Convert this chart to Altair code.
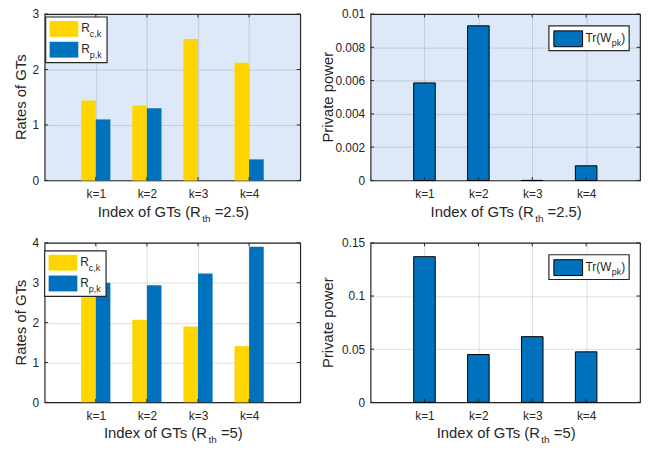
import altair as alt
import pandas as pd

# ---------------- data ----------------
K = [1, 2, 3, 4]
RC_25 = [1.44, 1.35, 2.55, 2.12]
RP_25 = [1.10, 1.30, 0.0, 0.38]
PW_25 = [0.00586, 0.00929, 0.0, 0.00088]
RC_5 = [2.80, 2.07, 1.90, 1.41]
RP_5 = [3.00, 2.94, 3.23, 3.90]
PW_5 = [0.137, 0.045, 0.0618, 0.0475]

Y_TL = [0, 1, 2, 3]
Y_BL = [0, 1, 2, 3, 4]
Y_TR = [0, 0.002, 0.004, 0.006, 0.008, 0.01]
Y_BR = [0, 0.05, 0.1, 0.15]

XT_TOP = ["Index of GTs (R", "th", "=2.5)"]
XT_BOT = ["Index of GTs (R", "th", "=5)"]
YT_L = "Rates of GTs"
YT_R = "Private power"
LEG_L = [("R", "c,k"), ("R", "p,k")]
LEG_R = ("Tr(W", "pk", ")")

# ---------------- style ----------------
FONT = "Liberation Sans"
INK = "#262626"
YEL = "#FFD500"
BLUE = "#0072BD"
BG_TOP = "#dde9f8"
BG_BOT = "#ffffff"
TL = 3.5  # inward tick length
TFS = 15   # axis title font size
LFS = 12   # tick label font size

ONE = pd.DataFrame({"o": [0]})


def T(s, x, y, size, align="left", baseline="alphabetic", angle=0):
    return alt.Chart(ONE).mark_text(
        text=s, font=FONT, fontSize=size, color=INK, align=align,
        baseline=baseline, angle=angle
    ).encode(x=alt.value(x), y=alt.value(y))


def RECT(x1, y1, x2, y2, fill, stroke=None, sw=0):
    kw = dict(fill=fill)
    if stroke:
        kw.update(stroke=stroke, strokeWidth=sw)
    return alt.Chart(ONE).mark_rect(**kw).encode(
        x=alt.value(x1), x2=alt.value(x2), y=alt.value(y1), y2=alt.value(y2))


def xscale():
    return alt.Scale(domain=[0, 5], nice=False, zero=False)


def yscale(yvals):
    return alt.Scale(domain=[yvals[0], yvals[-1] * (1 + 1e-9)], nice=False)


def xaxis():
    return alt.Axis(values=K, labelExpr="'k=' + datum.value", grid=True, ticks=False,
                    domain=False, title=None, labelPadding=8, labelFontSize=LFS,
                    labelFont=FONT, labelColor=INK, gridColor=INK, gridOpacity=0.15)


def yaxis(vals):
    return alt.Axis(values=vals, format="~g", grid=True, ticks=False, domain=False,
                    title=None, labelPadding=6, labelFontSize=LFS, labelFont=FONT,
                    labelColor=INK, gridColor=INK, gridOpacity=0.15, labelOverlap=False)


def ticks(W, H, yvals):
    yd = pd.DataFrame({"t": yvals})
    xd = pd.DataFrame({"k": K})
    rl = alt.Chart(yd).mark_rule(color=INK, strokeWidth=1)
    rx = alt.Chart(xd).mark_rule(color=INK, strokeWidth=1)
    return [
        rl.encode(y=alt.Y("t:Q", scale=yscale(yvals), axis=yaxis(yvals)), x=alt.value(0), x2=alt.value(TL)),
        rl.encode(y=alt.Y("t:Q", scale=yscale(yvals), axis=yaxis(yvals)), x=alt.value(W - TL), x2=alt.value(W)),
        rx.encode(x=alt.X("k:Q", scale=xscale(), axis=xaxis()), y=alt.value(H - TL), y2=alt.value(H)),
        rx.encode(x=alt.X("k:Q", scale=xscale(), axis=xaxis()), y=alt.value(0), y2=alt.value(TL)),
    ]


def xtitle(W, H, parts, tail_em, tb):
    # centre the three pieces as one title
    head = 7.058 * TFS
    total = head + 1.5 + 0.834 * 10 + 0.278 * TFS + tail_em * TFS
    d = head - total / 2
    return [
        T(parts[0], W / 2 + d, H + tb, TFS, align="right"),
        T(parts[1], W / 2 + d + 1.5, H + tb + 5, 10),
        T(parts[2], W / 2 + d + 1.5 + 0.834 * 10 + 0.278 * TFS, H + tb, TFS),
    ]


def grouped_panel(W, H, rc, rp, yvals, bg, ox, oy, xt, tail_em, tb):
    df = pd.DataFrame({"k": K * 2, "v": rc + rp, "s": ["c"] * 4 + ["p"] * 4})
    bars = alt.Chart(df).transform_calculate(
        x0="datum.k + (datum.s == 'c' ? -0.2857 : 0)",
        x1="datum.k + (datum.s == 'c' ? 0 : 0.2857)",
    ).mark_bar().encode(
        x=alt.X("x0:Q", scale=xscale(), axis=xaxis()),
        x2="x1:Q",
        y=alt.Y("v:Q", scale=yscale(yvals), axis=yaxis(yvals)),
        y2=alt.datum(0),
        color=alt.Color("s:N", scale=alt.Scale(domain=["c", "p"], range=[YEL, BLUE]), legend=None),
    )
    leg = [
        RECT(ox, oy, ox + 62, oy + 46, "#ffffff", INK, 1.2),
        RECT(ox + 4, oy + 4, ox + 33, oy + 20, YEL),
        RECT(ox + 4, oy + 25, ox + 33, oy + 41, BLUE),
        T(LEG_L[0][0], ox + 36, oy + 15.3, 12),
        T(LEG_L[0][1], ox + 44.5, oy + 20.3, 9),
        T(LEG_L[1][0], ox + 36, oy + 36.3, 12),
        T(LEG_L[1][1], ox + 44.5, oy + 41.3, 9),
    ]
    layers = [bars] + ticks(W, H, yvals) + leg + xtitle(W, H, xt, tail_em, tb) + [
        T(YT_L, -23.5, H / 2, TFS, align="center", baseline="middle", angle=270)]
    return alt.layer(*layers).properties(
        width=W, height=H, view=alt.ViewBackground(fill=bg, stroke=INK, strokeWidth=1.2))


def single_panel(W, H, pw, yvals, bg, xt, tail_em, tb):
    df = pd.DataFrame({"k": K, "v": pw})
    bars = alt.Chart(df).transform_calculate(
        x0="datum.k - 0.2", x1="datum.k + 0.2"
    ).mark_bar(fill=BLUE, stroke="#000000", strokeWidth=1).encode(
        x=alt.X("x0:Q", scale=xscale(), axis=xaxis()),
        x2="x1:Q",
        y=alt.Y("v:Q", scale=yscale(yvals), axis=yaxis(yvals)),
        y2=alt.datum(0),
    )
    bx = W - 92
    leg = [
        RECT(bx, 12, bx + 81, 37, "#ffffff", INK, 1.2),
        RECT(bx + 5, 17, bx + 34, 33, BLUE, "#000000", 1),
        T(LEG_R[0], bx + 37, 28, 12),
        T(LEG_R[1], bx + 63.5, 32, 9),
        T(LEG_R[2], bx + 73, 28, 12),
    ]
    layers = [bars] + ticks(W, H, yvals) + leg + xtitle(W, H, xt, tail_em, tb) + [
        T(YT_R, -43, H / 2, TFS, align="center", baseline="middle", angle=270)]
    return alt.layer(*layers).properties(
        width=W, height=H, view=alt.ViewBackground(fill=bg, stroke=INK, strokeWidth=1.2))


WL, WR = 258, 272
HT, HB = 168, 161

tl = grouped_panel(WL, HT, RC_25, RP_25, Y_TL, BG_TOP, 1, 3, XT_TOP, 2.307, 37)
tr = single_panel(WR, HT, PW_25, Y_TR, BG_TOP, XT_TOP, 2.307, 37)
bl = grouped_panel(WL, HB, RC_5, RP_5, Y_BL, BG_BOT, 0, 8, XT_BOT, 1.473, 36)
br = single_panel(WR, HB, PW_5, Y_BR, BG_BOT, XT_BOT, 1.473, 36)

chart = alt.concat(
    tl, tr, bl, br, columns=2, spacing={"row": 63, "column": 71},
    bounds="flush", align="each"
).properties(
    padding={"left": 5, "top": -3, "right": 2, "bottom": 0},
    background="#ffffff",
)

chart.save("out.html", embed_options={"renderer": "svg", "actions": False})
